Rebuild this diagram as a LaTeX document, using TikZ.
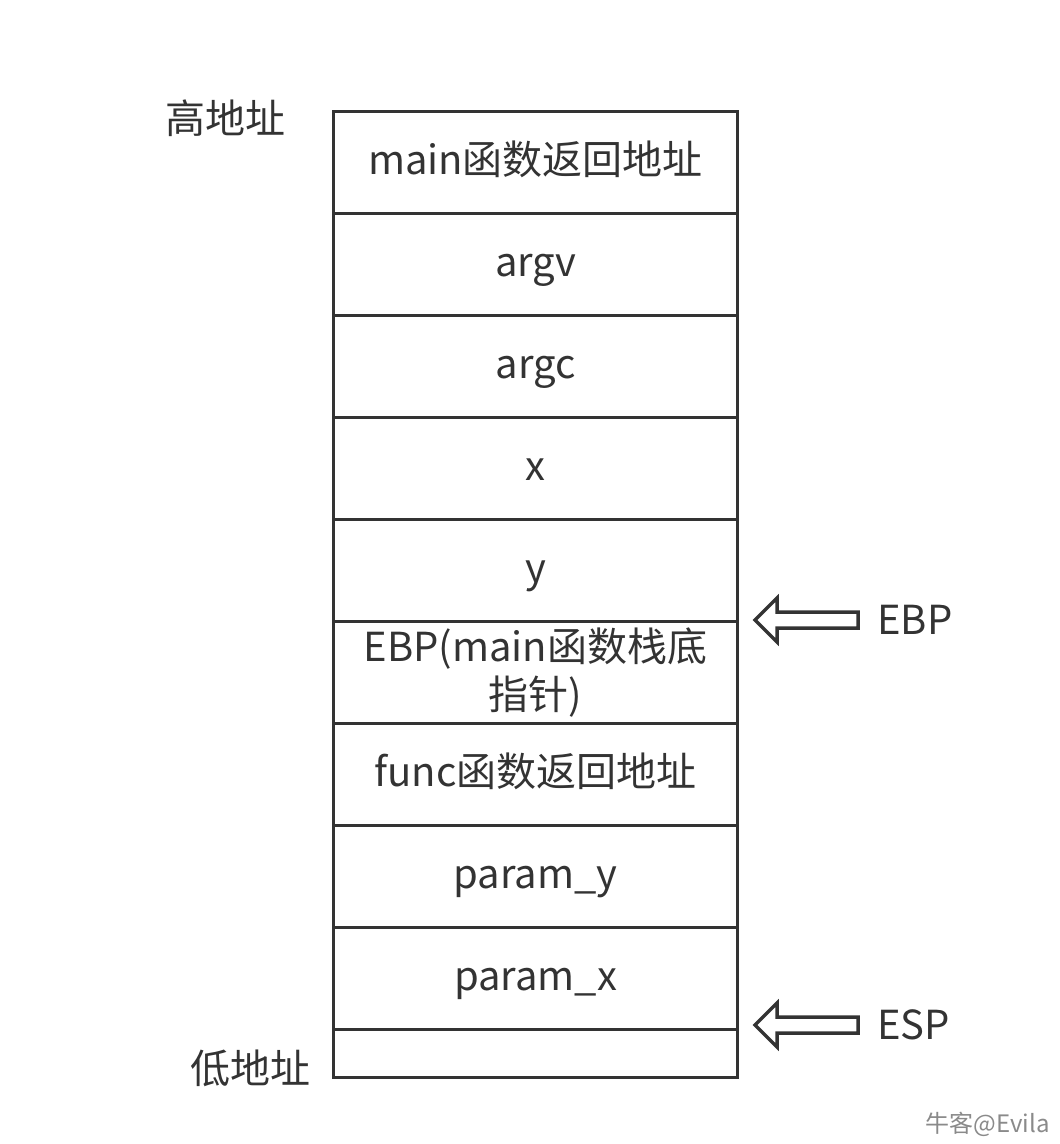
\documentclass[tikz,border=0pt]{standalone}
\usepackage{fontspec}
\setmainfont{Noto Sans CJK SC}
\definecolor{ink}{HTML}{333333}
\definecolor{wm}{HTML}{8A8A8A}
\begin{document}
\begin{tikzpicture}[x=1pt,y=-1pt,
  cellbase/.style={draw=ink,line width=3pt,minimum width=404pt,minimum height=102pt,inner sep=0pt,anchor=north west,text=ink,font=\fontsize{40}{48}\selectfont,align=center},
  cell/.style={cellbase,text height=32pt,text depth=8pt},
  lbl/.style={text=ink,font=\fontsize{40}{48}\selectfont,inner sep=0pt},
  ptr/.style={draw=ink,line width=3.5pt,line join=miter,fill=white}]
\useasboundingbox (0,0) rectangle (1060,1144);
\node[cell] (c1) at (332,110) {main函数返回地址};
\node[cell] (c2) at (332,212) {argv};
\node[cell] (c3) at (332,314) {argc};
\node[cell] (c4) at (332,416) {x};
\node[cell] (c5) at (332,518) {y};
\node[cellbase] (c6) at (332,620) {EBP(main函数栈底\\指针)};
\node[cell] (c7) at (332,722) {func函数返回地址};
\node[cell] (c8) at (332,824) {param\_y};
\node[cell] (c9) at (332,926) {param\_x};
\node[cellbase,minimum height=48pt] (c10) at (332,1028) {};
\node[lbl,anchor=west] (hi) at (165,118) {高地址};
\node[lbl,anchor=west] (lo) at (190,1068) {低地址};
\draw[ptr] (755,620) -- (777,598) -- (777,612) -- (858,612) -- (858,628) -- (777,628) -- (777,642) -- cycle;
\node[lbl,anchor=west] (ebp) at (877,620) {EBP};
\draw[ptr] (755,1025) -- (777,1003) -- (777,1017) -- (858,1017) -- (858,1033) -- (777,1033) -- (777,1047) -- cycle;
\node[lbl,anchor=west] (esp) at (877,1025) {ESP};
\node[text=wm,font=\fontsize{24}{28}\selectfont,anchor=east,inner sep=0pt] (wmk) at (1050,1124) {牛客@Evila};
\end{tikzpicture}
\end{document}
